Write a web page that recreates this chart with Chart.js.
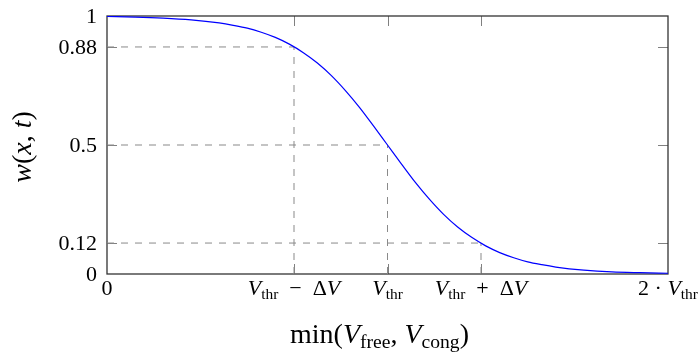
<!DOCTYPE html>
<html>
<head>
<meta charset="utf-8">
<script src="https://cdn.jsdelivr.net/npm/chart.js@4.4.1/dist/chart.umd.min.js"></script>
<style>
  body { margin: 0; background: #fff; }
  #wrap { width: 699px; height: 352px; }
</style>
</head>
<body>
<div id="wrap"><canvas id="weight"></canvas></div>
<script>
// curve w(x,t), x in units of V_thr
var xs = [0, 0.1, 0.2, 0.3, 0.4, 0.45, 0.5, 0.55, 0.6, 0.65, 0.7, 0.75, 0.8, 0.85, 0.9, 0.95, 1.0,
          1.05, 1.1, 1.15, 1.2, 1.25, 1.3, 1.35, 1.4, 1.45, 1.5, 1.55, 1.6, 1.7, 1.8, 1.9, 2.0];
var ws = [0.998, 0.996, 0.992, 0.985, 0.973, 0.964, 0.953, 0.937, 0.917, 0.891, 0.858, 0.818, 0.769, 0.711, 0.646, 0.574, 0.5,
          0.426, 0.354, 0.289, 0.231, 0.182, 0.142, 0.109, 0.083, 0.063, 0.047, 0.036, 0.027, 0.015, 0.008, 0.005, 0.003];

// dashed guide lines (V_thr - dV, V_thr, V_thr + dV)
var guideX = [2 / 3, 1, 4 / 3];
var guideY = [0.88, 0.5, 0.12];

var xTicks = [0, 2 / 3, 1, 4 / 3, 2];
var xTickLabels = [
    [['0', 'r']],
    [['V', 'i'], ['thr', 's'], ['  \u2212  ', 'r'], ['\u0394', 'r'], ['V', 'i']],
    [['V', 'i'], ['thr', 's']],
    [['V', 'i'], ['thr', 's'], ['  +  ', 'r'], ['\u0394', 'r'], ['V', 'i']],
    [['2 \u00b7 ', 'r'], ['V', 'i'], ['thr', 's']]
];
var yTicks = [0, 0.12, 0.5, 0.88, 1];
var yTickLabels = ['0', '0.12', '0.5', '0.88', '1'];

var xTitle = [['min(', 'r'], ['V', 'i'], ['free', 's'], [', ', 'r'], ['V', 'i'], ['cong', 's'], [')', 'r']];
var yTitle = [['w', 'i'], ['(', 'r'], ['x', 'i'], [', ', 'r'], ['t', 'i'], [')', 'r']];

var FAMILY = '"Liberation Serif", "DejaVu Serif", serif';

function segFont(st, size) {
    if (st == 'i') return 'italic ' + size + 'px ' + FAMILY;
    if (st == 's') return (size * 0.7) + 'px ' + FAMILY;
    return size + 'px ' + FAMILY;
}

function richWidth(ctx, segs, size) {
    var w = 0;
    segs.forEach(function (s) {
        ctx.font = segFont(s[1], size);
        w += ctx.measureText(s[0]).width;
    });
    return w;
}

function drawRich(ctx, segs, x, y, size, align) {
    var w = richWidth(ctx, segs, size);
    var cx = align == 'center' ? x - w / 2 : (align == 'right' ? x - w : x);
    ctx.textAlign = 'left';
    ctx.textBaseline = 'alphabetic';
    segs.forEach(function (s) {
        ctx.font = segFont(s[1], size);
        var dy = s[1] == 's' ? size * 0.18 : 0;
        ctx.fillText(s[0], cx, y + dy);
        cx += ctx.measureText(s[0]).width;
    });
}

var framePlugin = {
    id: 'frame',
    beforeDatasetsDraw: function (chart) {
        var ctx = chart.ctx, a = chart.chartArea;
        var sx = chart.scales.x, sy = chart.scales.y;
        ctx.save();
        // inner ticks on all four sides
        ctx.strokeStyle = '#808080';
        ctx.lineWidth = 1;
        ctx.beginPath();
        guideX.forEach(function (v) {
            var px = Math.round(sx.getPixelForValue(v)) + 0.5;
            ctx.moveTo(px, a.top); ctx.lineTo(px, a.top + 10);
            ctx.moveTo(px, a.bottom); ctx.lineTo(px, a.bottom - 10);
        });
        guideY.forEach(function (v) {
            var py = Math.round(sy.getPixelForValue(v)) + 0.5;
            ctx.moveTo(a.left, py); ctx.lineTo(a.left + 10, py);
            ctx.moveTo(a.right, py); ctx.lineTo(a.right - 10, py);
        });
        ctx.stroke();
        ctx.strokeStyle = '#333';
        ctx.lineWidth = 1.3;
        ctx.strokeRect(a.left, a.top, a.right - a.left, a.bottom - a.top);
        ctx.restore();
    },
    afterDraw: function (chart) {
        var ctx = chart.ctx, a = chart.chartArea;
        var sx = chart.scales.x, sy = chart.scales.y;
        ctx.save();
        ctx.fillStyle = '#000';
        yTicks.forEach(function (v, i) {
            drawRich(ctx, [[yTickLabels[i], 'r']], a.left - 10, sy.getPixelForValue(v) + 7, 22, 'right');
        });
        xTicks.forEach(function (v, i) {
            drawRich(ctx, xTickLabels[i], sx.getPixelForValue(v), a.bottom + 21, 22, 'center');
        });
        drawRich(ctx, xTitle, (a.left + a.right) / 2 - 8, a.bottom + 69, 28, 'center');
        ctx.translate(31, (a.top + a.bottom) / 2 + 2);
        ctx.rotate(-Math.PI / 2);
        drawRich(ctx, yTitle, 0, 0, 28, 'center');
        ctx.restore();
    }
};

var guides = [];
guideX.forEach(function (gx, i) {
    var gy = guideY[i];
    guides.push({ data: [{ x: 0, y: gy }, { x: gx, y: gy }] });
    guides.push({ data: [{ x: gx, y: 0 }, { x: gx, y: gy }] });
});
guides.forEach(function (g) {
    g.borderColor = '#8a8a8a';
    g.borderWidth = 1;
    g.borderDash = [7, 7];
    g.pointRadius = 0;
    g.fill = false;
    g.order = 2;
});

var curve = xs.map(function (x, i) { return { x: x, y: ws[i] }; });

var ctx = document.getElementById('weight').getContext('2d');
var chart = new Chart(ctx, {
    type: 'line',
    data: {
        datasets: [{
            data: curve,
            borderColor: '#0000ff',
            borderWidth: 1.2,
            pointRadius: 0,
            cubicInterpolationMode: 'monotone',
            fill: false,
            order: 1
        }].concat(guides)
    },
    options: {
        responsive: true,
        maintainAspectRatio: false,
        animation: false,
        layout: { padding: { left: 107, right: 31, top: 16, bottom: 78 } },
        plugins: { legend: { display: false }, tooltip: { enabled: false } },
        scales: {
            x: { type: 'linear', min: 0, max: 2, display: false },
            y: { type: 'linear', min: 0, max: 1, display: false }
        }
    },
    plugins: [framePlugin]
});
</script>
</body>
</html>
